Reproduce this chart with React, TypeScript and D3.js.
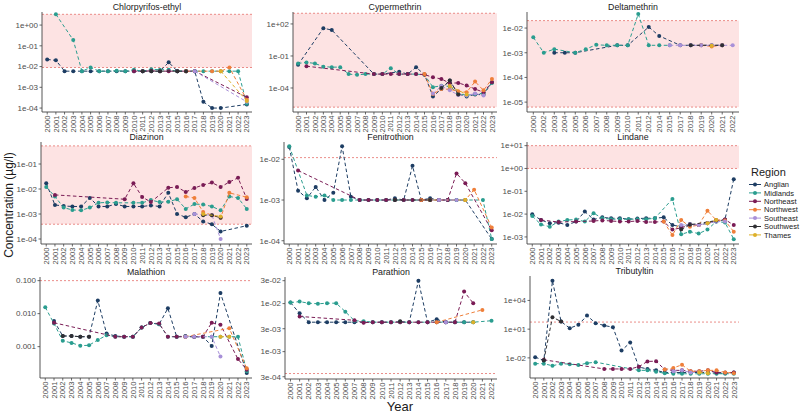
import * as d3 from "d3";

type Pt = [number, number];
type Series = Record<string, Pt[]>;

const regions = ["Anglian", "Midlands", "Northeast", "Northwest", "Southeast", "Southwest", "Thames"];
const regionColors = ["#1d3d63", "#2a9d8f", "#7a1c55", "#ef7f3a", "#a890d8", "#2f2f33", "#ddb02a"];

const yearsAll = ["2000", "2001", "2002", "2003", "2004", "2005", "2006", "2007", "2008", "2009", "2010", "2011",
  "2012", "2013", "2014", "2015", "2016", "2017", "2018", "2019", "2020", "2021", "2022", "2023"];
const yearsDeltamethrin = ["2000", "2002", "2003", "2004", "2005", "2006", "2007", "2008", "2009", "2010", "2011",
  "2012", "2014", "2015", "2017", "2018", "2019", "2020", "2021", "2022"];
const yearsParathion = ["2000", "2001", "2002", "2003", "2004", "2005", "2006", "2007", "2008", "2009", "2010", "2011",
  "2012", "2013", "2014", "2015", "2016", "2017", "2018", "2019", "2020", "2021", "2022"];

const chlorpyrifos: Series = {
  Anglian: [[2000, 0.022], [2001, 0.02], [2002, 0.006], [2003, 0.006], [2004, 0.006], [2005, 0.006], [2006, 0.006], [2007, 0.006], [2008, 0.006], [2009, 0.006], [2010, 0.006], [2011, 0.006], [2012, 0.006], [2013, 0.006], [2014, 0.016], [2015, 0.006], [2016, 0.006], [2017, 0.006], [2018, 0.0002], [2019, 0.0001], [2020, 0.0001], [2023, 0.00015]],
  Midlands: [[2001, 3.3], [2003, 0.19], [2004, 0.006], [2005, 0.009], [2006, 0.006], [2007, 0.006], [2008, 0.0063], [2009, 0.006], [2010, 0.007], [2011, 0.006], [2012, 0.0075], [2013, 0.007], [2014, 0.007], [2015, 0.006], [2016, 0.006], [2017, 0.006], [2018, 0.006], [2019, 0.006], [2020, 0.006], [2021, 0.006], [2022, 0.006], [2023, 0.00016]],
  Northeast: [[2010, 0.006], [2011, 0.006], [2012, 0.0062], [2013, 0.006], [2014, 0.006], [2015, 0.006], [2016, 0.006], [2017, 0.006], [2023, 0.00033]],
  Northwest: [[2016, 0.006], [2019, 0.006], [2020, 0.006], [2021, 0.009], [2023, 0.00025]],
  Southeast: [[2017, 0.006], [2023, 0.0002]],
  Southwest: [[2011, 0.006], [2012, 0.006], [2013, 0.006], [2015, 0.006], [2016, 0.006]],
  Thames: [[2020, 0.006], [2023, 0.00022]],
};

const cypermethrin: Series = {
  Anglian: [[2000, 0.015], [2003, 40], [2004, 27], [2009, 0.002], [2010, 0.002], [2012, 0.0034], [2013, 0.002], [2014, 0.0087], [2015, 0.0018], [2016, 1.6e-5], [2017, 8e-5], [2018, 5e-4], [2019, 2.7e-5], [2020, 1.6e-5], [2021, 2.5e-5], [2022, 2.3e-5], [2023, 3.4e-4]],
  Midlands: [[2000, 0.02], [2001, 0.025], [2002, 0.02], [2003, 0.01], [2004, 0.009], [2005, 0.009], [2006, 0.002], [2007, 0.0017], [2008, 0.002], [2009, 0.002], [2010, 0.002], [2011, 0.007], [2012, 0.002], [2013, 0.002], [2014, 0.002], [2015, 0.0017], [2016, 1.2e-4], [2017, 1.6e-4], [2018, 1.4e-4], [2019, 3.2e-5], [2020, 2e-5], [2021, 2.7e-5], [2022, 3.2e-5], [2023, 3e-4]],
  Northeast: [[2001, 0.011], [2009, 0.002], [2010, 0.002], [2011, 0.002], [2012, 0.002], [2013, 0.002], [2014, 0.002], [2015, 0.0018], [2016, 0.001], [2017, 7e-4], [2018, 2.8e-4], [2019, 3e-4], [2020, 1.7e-4], [2021, 8e-5], [2022, 4e-5], [2023, 3.5e-4]],
  Northwest: [[2015, 0.002], [2016, 2.7e-5], [2017, 8e-5], [2018, 7.5e-5], [2019, 5e-5], [2020, 4e-5], [2021, 4e-4], [2022, 6e-5], [2023, 7e-4]],
  Southeast: [[2016, 3e-5], [2017, 1.5e-4], [2018, 6e-5], [2019, 2.2e-5], [2020, 2e-5], [2021, 3e-5], [2022, 2e-5]],
  Southwest: [[2017, 1e-4], [2018, 5e-4], [2019, 2.5e-5]],
  Thames: [[2018, 1.5e-4], [2020, 2.5e-5]],
};

const deltamethrin: Series = {
  Anglian: [[2003, 0.001], [2004, 0.001], [2005, 0.001], [2009, 0.002], [2010, 0.002], [2012, 0.011], [2014, 0.0048], [2017, 0.002], [2018, 0.002], [2019, 0.002], [2020, 0.002], [2021, 0.002]],
  Midlands: [[2000, 0.0042], [2002, 0.001], [2003, 0.0014], [2005, 0.001], [2006, 0.0014], [2007, 0.0021], [2008, 0.002], [2009, 0.002], [2010, 0.002], [2011, 0.037], [2012, 0.002], [2014, 0.002], [2015, 0.002]],
  Northeast: [],
  Northwest: [[2019, 0.002], [2020, 0.0018], [2021, 0.002]],
  Southeast: [[2015, 0.002], [2017, 0.002], [2018, 0.002], [2019, 0.002], [2020, 0.002], [2021, 0.002], [2022, 0.002]],
  Southwest: [[2018, 0.002], [2021, 0.002]],
  Thames: [[2020, 0.0019]],
};

const diazinon: Series = {
  Anglian: [[2000, 0.017], [2001, 0.0023], [2002, 0.0021], [2003, 0.002], [2004, 0.002], [2005, 0.0044], [2006, 0.002], [2007, 0.002], [2008, 0.0025], [2009, 0.002], [2010, 0.002], [2011, 0.002], [2012, 0.0022], [2013, 0.002], [2014, 0.0071], [2015, 0.001], [2016, 0.00074], [2017, 0.001], [2018, 0.0005], [2019, 0.00039], [2020, 0.0002], [2023, 0.00034]],
  Midlands: [[2000, 0.012], [2001, 0.005], [2002, 0.0018], [2003, 0.00145], [2004, 0.0014], [2005, 0.0018], [2006, 0.0028], [2007, 0.0029], [2008, 0.0028], [2010, 0.0028], [2011, 0.0028], [2012, 0.0036], [2013, 0.003], [2014, 0.0031], [2015, 0.0039], [2016, 0.0016], [2017, 0.0025], [2018, 0.0024], [2019, 0.002], [2020, 0.0014], [2021, 0.005], [2022, 0.0044], [2023, 0.0016]],
  Northeast: [[2001, 0.0058], [2009, 0.0039], [2010, 0.017], [2011, 0.0048], [2012, 0.003], [2014, 0.0112], [2015, 0.012], [2016, 0.0076], [2017, 0.011], [2018, 0.0145], [2019, 0.018], [2020, 0.012], [2021, 0.019], [2022, 0.028], [2023, 0.004]],
  Northwest: [[2016, 0.005], [2017, 0.0044], [2018, 0.0012], [2019, 0.0009], [2020, 0.0007], [2021, 0.007], [2023, 0.0047]],
  Southeast: [[2017, 0.001], [2019, 0.0009], [2020, 0.0001]],
  Southwest: [[2018, 0.0009], [2019, 0.0009], [2020, 0.0007]],
  Thames: [[2018, 0.001], [2020, 0.0008]],
};

const fenitrothion: Series = {
  Anglian: [[2000, 0.02], [2001, 0.0017], [2002, 0.0011], [2003, 0.0021], [2004, 0.001], [2005, 0.0015], [2006, 0.021], [2007, 0.0012], [2008, 0.001], [2009, 0.001], [2010, 0.001], [2011, 0.001], [2012, 0.0011], [2013, 0.001], [2014, 0.0069], [2015, 0.001], [2016, 0.0011], [2017, 0.001], [2018, 0.001], [2019, 0.001], [2020, 0.001], [2023, 0.00011]],
  Midlands: [[2000, 0.021], [2002, 0.0013], [2003, 0.0012], [2004, 0.0013], [2005, 0.001], [2006, 0.001], [2007, 0.001], [2008, 0.001], [2009, 0.001], [2010, 0.001], [2011, 0.001], [2012, 0.001], [2013, 0.001], [2014, 0.001], [2015, 0.001], [2016, 0.001], [2017, 0.001], [2018, 0.001], [2019, 0.001], [2020, 0.001], [2022, 0.001], [2023, 0.00011]],
  Northeast: [[2001, 0.0053], [2008, 0.001], [2009, 0.001], [2010, 0.001], [2011, 0.001], [2012, 0.001], [2013, 0.001], [2014, 0.001], [2015, 0.001], [2016, 0.001], [2017, 0.001], [2018, 0.001], [2019, 0.0045], [2020, 0.0026], [2023, 0.00018]],
  Northwest: [[2015, 0.001], [2016, 0.001], [2020, 0.001], [2021, 0.0018], [2023, 0.00021]],
  Southeast: [[2017, 0.001], [2019, 0.001]],
  Southwest: [[2012, 0.001], [2016, 0.001]],
  Thames: [[2020, 0.001]],
};

const lindane: Series = {
  Anglian: [[2000, 0.0098], [2001, 0.0055], [2002, 0.004], [2003, 0.0042], [2004, 0.0033], [2005, 0.0047], [2006, 0.013], [2007, 0.0058], [2008, 0.0072], [2009, 0.0066], [2010, 0.0066], [2011, 0.006], [2012, 0.0064], [2013, 0.0066], [2014, 0.0066], [2015, 0.0072], [2016, 0.0033], [2017, 0.0028], [2018, 0.0037], [2019, 0.0033], [2020, 0.004], [2021, 0.0047], [2022, 0.0058], [2023, 0.34]],
  Midlands: [[2000, 0.0082], [2001, 0.0035], [2002, 0.0028], [2003, 0.0047], [2004, 0.0055], [2005, 0.0058], [2006, 0.0047], [2007, 0.011], [2008, 0.0066], [2009, 0.006], [2010, 0.006], [2011, 0.006], [2012, 0.006], [2013, 0.006], [2014, 0.0066], [2016, 0.046], [2017, 0.0013], [2018, 0.0017], [2019, 0.0014], [2020, 0.0021], [2021, 0.0047], [2022, 0.0043], [2023, 0.0008]],
  Northeast: [[2001, 0.0055], [2003, 0.0045], [2005, 0.0047], [2007, 0.005], [2008, 0.0053], [2009, 0.005], [2010, 0.0047], [2011, 0.0047], [2012, 0.005], [2013, 0.0045], [2014, 0.0045], [2015, 0.0047], [2016, 0.0021], [2017, 0.0025], [2018, 0.0035], [2019, 0.0033], [2020, 0.004], [2021, 0.0052], [2022, 0.0058], [2023, 0.0033]],
  Northwest: [[2015, 0.0047], [2016, 0.0012], [2017, 0.0055], [2018, 0.0028], [2019, 0.0033], [2020, 0.014], [2021, 0.0055], [2022, 0.0052], [2023, 0.0017]],
  Southeast: [[2017, 0.0033], [2018, 0.0035], [2019, 0.0033], [2020, 0.004], [2021, 0.0047], [2022, 0.0047]],
  Southwest: [[2017, 0.0021], [2018, 0.0034], [2021, 0.0052]],
  Thames: [[2020, 0.004], [2021, 0.0055]],
};

const malathion: Series = {
  Anglian: [[2001, 0.006], [2002, 0.0021], [2003, 0.0021], [2004, 0.002], [2005, 0.002], [2006, 0.025], [2007, 0.0025], [2008, 0.0021], [2009, 0.002], [2010, 0.002], [2011, 0.0038], [2012, 0.0052], [2013, 0.0048], [2014, 0.0145], [2015, 0.002], [2016, 0.0021], [2017, 0.002], [2018, 0.002], [2019, 0.00105], [2020, 0.042], [2023, 0.00016]],
  Midlands: [[2000, 0.0156], [2001, 0.005], [2002, 0.0015], [2003, 0.0013], [2004, 0.00107], [2005, 0.0011], [2006, 0.0016], [2007, 0.0022], [2008, 0.002], [2009, 0.002], [2010, 0.002], [2011, 0.0038], [2012, 0.0052], [2013, 0.0048], [2014, 0.002], [2015, 0.002], [2016, 0.002], [2017, 0.002], [2018, 0.002], [2019, 0.002], [2020, 0.002], [2021, 0.002], [2022, 0.002], [2023, 0.00018]],
  Northeast: [[2001, 0.0053], [2008, 0.002], [2009, 0.002], [2010, 0.002], [2011, 0.0038], [2012, 0.0052], [2013, 0.005], [2014, 0.002], [2015, 0.002], [2016, 0.002], [2017, 0.002], [2018, 0.002], [2019, 0.0053], [2020, 0.0046], [2022, 0.00042], [2023, 0.0002]],
  Northwest: [[2016, 0.002], [2021, 0.0036], [2023, 0.00022]],
  Southeast: [[2016, 0.002], [2017, 0.002], [2019, 0.002], [2020, 0.0005]],
  Southwest: [[2002, 0.0021], [2003, 0.0021], [2004, 0.002], [2005, 0.002]],
  Thames: [[2020, 0.002], [2021, 0.002]],
};

const parathion: Series = {
  Anglian: [[2000, 0.0105], [2001, 0.0063], [2002, 0.0041], [2003, 0.0041], [2004, 0.0041], [2005, 0.0041], [2006, 0.0041], [2007, 0.0041], [2008, 0.0041], [2009, 0.0041], [2010, 0.0041], [2011, 0.0041], [2012, 0.0042], [2013, 0.0041], [2014, 0.03], [2015, 0.0041], [2016, 0.0047], [2017, 0.0041], [2018, 0.0041], [2019, 0.0041], [2020, 0.0041]],
  Midlands: [[2000, 0.0105], [2001, 0.011], [2002, 0.0102], [2003, 0.0099], [2004, 0.0102], [2005, 0.0102], [2006, 0.0068], [2007, 0.0044], [2008, 0.0043], [2009, 0.0041], [2010, 0.0041], [2011, 0.0041], [2012, 0.0041], [2013, 0.0041], [2014, 0.0041], [2015, 0.0041], [2016, 0.0041], [2017, 0.0041], [2018, 0.0041], [2019, 0.0041], [2020, 0.0041], [2022, 0.0044]],
  Northeast: [[2001, 0.0054], [2007, 0.0045], [2008, 0.004], [2009, 0.0041], [2010, 0.0041], [2011, 0.0041], [2012, 0.0041], [2013, 0.0041], [2014, 0.0041], [2015, 0.0041], [2016, 0.0041], [2017, 0.0041], [2018, 0.0041], [2019, 0.0178], [2020, 0.0102]],
  Northwest: [[2016, 0.0041], [2021, 0.0074]],
  Southeast: [[2017, 0.0041]],
  Southwest: [[2012, 0.0043]],
  Thames: [[2020, 0.0041]],
};

const tributyltin: Series = {
  Anglian: [[2000, 0.012], [2001, 0.0054], [2002, 1.1e6], [2003, 62], [2004, 12.6], [2005, 28], [2006, 260], [2007, 42], [2008, 24], [2009, 16], [2010, 0.059], [2011, 0.4], [2012, 0.0011], [2013, 7e-4], [2014, 5e-4], [2015, 3e-4], [2016, 3e-4], [2017, 3e-4], [2018, 3e-4], [2019, 3e-4], [2020, 3e-4], [2021, 2.5e-4], [2022, 2.5e-4], [2023, 3e-4]],
  Midlands: [[2000, 0.0025], [2001, 0.0025], [2002, 0.0015], [2003, 0.0025], [2004, 0.0022], [2005, 0.0018], [2006, 0.0028], [2007, 0.0036], [2012, 5e-4], [2013, 5e-4], [2014, 3.5e-4], [2015, 2.5e-4], [2016, 2.2e-4], [2017, 2.2e-4], [2018, 2.2e-4], [2019, 2.2e-4], [2020, 2.2e-4], [2021, 2.2e-4], [2022, 2.2e-4], [2023, 2.2e-4]],
  Northeast: [[2001, 0.0063], [2008, 7e-4], [2009, 7e-4], [2010, 7e-4], [2011, 7e-4], [2012, 0.0012], [2013, 0.0043], [2014, 0.0045], [2015, 6e-4], [2016, 5e-4], [2017, 5e-4], [2018, 4e-4], [2019, 4e-4], [2020, 5e-4], [2021, 3e-4], [2022, 3e-4], [2023, 3e-4]],
  Northwest: [[2015, 6e-4], [2016, 9e-4], [2017, 0.0019], [2018, 4e-4], [2019, 4e-4], [2020, 5e-4], [2021, 5e-4], [2022, 3e-4], [2023, 2.5e-4]],
  Southeast: [[2016, 4e-4], [2017, 5e-4], [2018, 3e-4], [2019, 3e-4]],
  Southwest: [[2001, 0.0054], [2002, 180], [2003, 62]],
  Thames: [[2019, 3e-4], [2020, 2.5e-4]],
};

// panel layout: [left, right, top, bottom], log10 extent of the y axis, tick values, threshold lines
const panels = [
  { title: "Chlorpyrifos-ethyl", years: yearsAll, data: chlorpyrifos, box: [42, 252, 12, 112], logExt: [-4.19, 0.63], ticks: [1, 0.1, 0.01, 0.001, 1e-4], fmt: "sci", limits: [0.009, 3.3], band: true },
  { title: "Cypermethrin", years: yearsAll, data: cypermethrin, box: [293, 497, 12, 112], logExt: [-6.25, 3.12], ticks: [100, 0.1, 1e-4], fmt: "sci", limits: [1.6e-6, 1000], band: true },
  { title: "Deltamethrin", years: yearsDeltamethrin, data: deltamethrin, box: [527, 739, 12, 112], logExt: [-5.4, -1.35], ticks: [0.01, 0.001, 1e-4, 1e-5], fmt: "sci", limits: [6.3e-6, 0.02], band: true },
  { title: "Diazinon", years: yearsAll, data: diazinon, box: [41, 252, 142, 244], logExt: [-4.2, -0.12], ticks: [0.1, 0.01, 0.001, 1e-4], fmt: "sci", limits: [3.9e-4, 0.53], band: true },
  { title: "Fenitrothion", years: yearsAll, data: fenitrothion, box: [284, 497, 142, 244], logExt: [-4.08, -1.575], ticks: [0.01, 0.001, 1e-4], fmt: "sci", limits: [0.011], band: false },
  { title: "Lindane", years: yearsAll, data: lindane, box: [527, 739, 142, 244], logExt: [-3.31, 1.16], ticks: [10, 1, 0.1, 0.01, 0.001], fmt: "sci", limits: [1, 10], band: true },
  { title: "Malathion", years: yearsAll, data: malathion, box: [40, 252, 277, 378], logExt: [-3.95, -0.89], ticks: [0.1, 0.01, 0.001], fmt: "fixed", limits: [0.1], band: false },
  { title: "Parathion", years: yearsParathion, data: parathion, box: [285, 497, 277, 379], logExt: [-3.57, -1.446], ticks: [0.03, 0.01, 0.003, 0.001, 3e-4], fmt: "sci", limits: [3.5e-4], band: false },
  { title: "Tributyltin", years: yearsAll, data: tributyltin, box: [530, 739, 276, 378], logExt: [-4.1, 6.55], ticks: [1e4, 10, 0.01], fmt: "sci", limits: [55], band: false },
];

const font = "'Liberation Sans', Arial, sans-serif";

function sci(v: number) {
  const e = Math.floor(Math.log10(v) + 1e-9);
  const m = Math.round(v / Math.pow(10, e));
  return `${m}e${e < 0 ? "-" : "+"}${String(Math.abs(e)).padStart(2, "0")}`;
}

function Panel({ p }: { p: (typeof panels)[number] }) {
  const [l, r, t, b] = p.box;
  const x = d3.scalePoint<string>().domain(p.years).range([l, r]).padding(0.6);
  const y = d3.scaleLog().domain([Math.pow(10, p.logExt[0]), Math.pow(10, p.logExt[1])]).range([b, t]);
  const line = d3.line<Pt>().x(d => x(String(d[0])) as number).y(d => y(d[1]));
  const fmt = p.fmt === "fixed" ? d3.format(".3f") : sci;

  return (
    <g>
      {p.band && (
        <rect x={l} width={r - l} y={y(p.limits[1])} height={y(p.limits[0]) - y(p.limits[1])} fill="#fde3e3" />
      )}
      {p.limits.map((v, i) => (
        <line key={i} x1={l} x2={r} y1={y(v)} y2={y(v)} stroke="#e8807c" strokeWidth={0.9} strokeDasharray="2,2" />
      ))}
      {regions.map((reg, i) => {
        const pts = p.data[reg] || [];
        if (!pts.length) return null;
        return (
          <g key={reg}>
            <path d={line(pts) || ""} fill="none" stroke={regionColors[i]} strokeWidth={1} strokeDasharray="3.5,2.5" />
            {pts.map((d, j) => (
              <circle key={j} cx={x(String(d[0]))} cy={y(d[1])} r={2} fill={regionColors[i]} />
            ))}
          </g>
        );
      })}
      <line x1={l} x2={l} y1={t} y2={b} stroke="#444" strokeWidth={0.9} />
      <line x1={l} x2={r} y1={b} y2={b} stroke="#444" strokeWidth={0.9} />
      {p.ticks.map(v => (
        <g key={v}>
          <line x1={l - 2.5} x2={l} y1={y(v)} y2={y(v)} stroke="#444" strokeWidth={0.8} />
          <text x={l - 4} y={y(v)} dy="0.35em" textAnchor="end" fontSize={8} fill="#4d4d4d">{fmt(v)}</text>
        </g>
      ))}
      {p.years.map(yr => {
        const xx = x(yr) as number;
        return (
          <g key={yr}>
            <line x1={xx} x2={xx} y1={b} y2={b + 2.5} stroke="#444" strokeWidth={0.8} />
            <text transform={`translate(${xx + 2.7},${b + 3.5}) rotate(-90)`} textAnchor="end" fontSize={7.6} fill="#4d4d4d">{yr}</text>
          </g>
        );
      })}
      <text x={(l + r) / 2} y={t - 2} textAnchor="middle" fontSize={8.8} fill="#1a1a1a">{p.title}</text>
    </g>
  );
}

export default function App() {
  return (
    <svg width={800} height={417} style={{ position: "absolute", left: 0, top: 0, background: "#fff" }} fontFamily={font}>
      {panels.map(p => <Panel key={p.title} p={p} />)}
      <text x={400} y={411} textAnchor="middle" fontSize={13} fill="#1a1a1a">Year</text>
      <text transform="translate(13,205) rotate(-90)" textAnchor="middle" fontSize={12} fill="#1a1a1a">Concentration (µg/l)</text>
      <text x={751} y={176} fontSize={11} fill="#1a1a1a">Region</text>
      {regions.map((reg, i) => {
        const cy = 184.5 + i * 8.4;
        return (
          <g key={reg}>
            <line x1={749} x2={761} y1={cy} y2={cy} stroke={regionColors[i]} strokeWidth={1} />
            <circle cx={755} cy={cy} r={2} fill={regionColors[i]} />
            <text x={764} y={cy} dy="0.35em" fontSize={7.5} fill="#1a1a1a">{reg}</text>
          </g>
        );
      })}
    </svg>
  );
}
